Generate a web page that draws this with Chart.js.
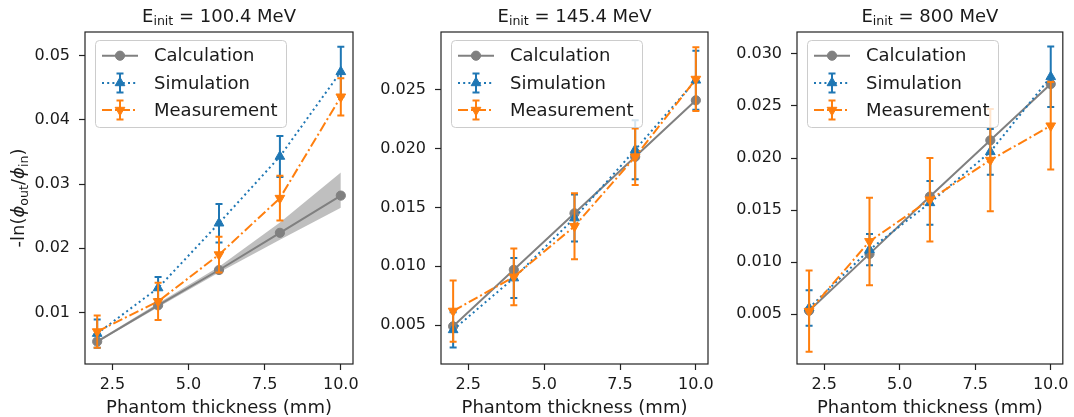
<!DOCTYPE html>
<html>
<head>
<meta charset="utf-8">
<script src="https://cdn.jsdelivr.net/npm/chart.js@4.4.0/dist/chart.umd.min.js"></script>
<style>
  html, body { margin: 0; padding: 0; background: #ffffff; }
  #wrap { position: relative; width: 1074px; height: 417px; overflow: hidden; background: #ffffff; }
  #wrap canvas { position: absolute; top: 0; }
</style>
</head>
<body>
<div id="wrap">
  <canvas id="c1" width="380" height="417" style="left:0px"></canvas>
  <canvas id="c2" width="350" height="417" style="left:380px"></canvas>
  <canvas id="c3" width="344" height="417" style="left:730px"></canvas>
</div>
<script>
// Phantom thickness (mm) shared by every panel
const thickness = [2, 4, 6, 8, 10];
const xTickValues = [2.5, 5.0, 7.5, 10.0];
const energyLabels = ['100.4', '145.4', '800'];
const seriesNames = ['Calculation', 'Simulation', 'Measurement'];

// E_init = 100.4 MeV
const calc1 = [0.00545, 0.0111, 0.0166, 0.0224, 0.0282];
const calc1Low = [0.0053, 0.0108, 0.0162, 0.0213, 0.0263];
const calc1High = [0.0056, 0.0114, 0.0171, 0.0240, 0.0318];
const sim1 = [0.0067, 0.0138, 0.0239, 0.0343, 0.0475];
const sim1Err = [0.0022, 0.0017, 0.0030, 0.0032, 0.0039];
const meas1 = [0.0070, 0.0117, 0.0190, 0.0278, 0.0436];
const meas1Err = [0.0025, 0.0029, 0.0028, 0.0035, 0.0029];
const yTicks1 = [0.01, 0.02, 0.03, 0.04, 0.05];

// E_init = 145.4 MeV
const calc2 = [0.0049, 0.0097, 0.0145, 0.0193, 0.0241];
const sim2 = [0.0046, 0.0090, 0.0141, 0.0199, 0.0258];
const sim2Err = [0.0015, 0.0017, 0.0020, 0.0025, 0.0025];
const meas2 = [0.0062, 0.0091, 0.0134, 0.0193, 0.0259];
const meas2Err = [0.0026, 0.0024, 0.0028, 0.0024, 0.0027];
const yTicks2 = [0.005, 0.010, 0.015, 0.020, 0.025];

// E_init = 800 MeV
const calc3 = [0.00535, 0.0108, 0.0163, 0.0217, 0.0271];
const sim3 = [0.0056, 0.0112, 0.0157, 0.0206, 0.0278];
const sim3Err = [0.0017, 0.0015, 0.0021, 0.0022, 0.0029];
const meas3 = [0.0053, 0.0120, 0.0160, 0.0198, 0.0231];
const meas3Err = [0.0039, 0.0042, 0.0040, 0.0049, 0.0042];
const yTicks3 = [0.005, 0.010, 0.015, 0.020, 0.025, 0.030];

const FONT = '"DejaVu Sans", "Liberation Sans", sans-serif';
const GREY = '#808080';
const BLUE = '#1f77b4';
const ORANGE = '#ff7f0e';
const INK = '#1a1a1a';

const styleCalc = { color: GREY, dash: [], pointStyle: 'circle', rotation: 0, radius: 4.6 };
const styleSim = { color: BLUE, dash: [2, 3.2], pointStyle: 'triangle', rotation: 0, radius: 5.6 };
const styleMeas = { color: ORANGE, dash: [10, 3, 2, 3], pointStyle: 'triangle', rotation: 180, radius: 5.6 };

function pts(values) {
  return thickness.map((t, i) => ({ x: t, y: values[i] }));
}

function drawErrorBar(ctx, x, yLow, yHigh, color) {
  ctx.save();
  ctx.strokeStyle = color;
  ctx.lineWidth = 2;
  ctx.setLineDash([]);
  ctx.beginPath();
  ctx.moveTo(x, yLow); ctx.lineTo(x, yHigh);
  ctx.moveTo(x - 3.5, yLow); ctx.lineTo(x + 3.5, yLow);
  ctx.moveTo(x - 3.5, yHigh); ctx.lineTo(x + 3.5, yHigh);
  ctx.stroke();
  ctx.restore();
}

function drawMarker(ctx, style, x, y) {
  ctx.save();
  ctx.fillStyle = style.color;
  ctx.strokeStyle = style.color;
  ctx.lineWidth = 1;
  ctx.setLineDash([]);
  Chart.helpers.drawPoint(ctx, { pointStyle: style.pointStyle, rotation: style.rotation, radius: style.radius, borderWidth: 1 }, x, y);
  ctx.restore();
}

// Text with subscripts: parts = [[text, isSub, isItalic], ...]
function drawRichText(ctx, parts, x, y, size, align) {
  const widths = parts.map(p => {
    ctx.font = (p[2] ? 'italic ' : '') + (p[1] ? size * 0.7 : size) + 'px ' + FONT;
    return ctx.measureText(p[0]).width;
  });
  const total = widths.reduce((a, b) => a + b, 0);
  let cx = align === 'center' ? x - total / 2 : x;
  ctx.textAlign = 'left';
  ctx.textBaseline = 'alphabetic';
  parts.forEach((p, i) => {
    ctx.font = (p[2] ? 'italic ' : '') + (p[1] ? size * 0.7 : size) + 'px ' + FONT;
    ctx.fillText(p[0], cx, p[1] ? y + size * 0.22 : y);
    cx += widths[i];
  });
}

const decor = {
  id: 'decor',
  beforeDatasetDraw(chart, args) {
    const ds = chart.data.datasets[args.index];
    if (!ds.errors) return;
    const xs = chart.scales.x, ys = chart.scales.y;
    ds.data.forEach((p, i) => {
      const x = xs.getPixelForValue(p.x);
      drawErrorBar(chart.ctx, x, ys.getPixelForValue(p.y - ds.errors[i]), ys.getPixelForValue(p.y + ds.errors[i]), ds.borderColor);
    });
  },
  afterDraw(chart, args, opts) {
    const ctx = chart.ctx;
    const a = chart.chartArea;
    ctx.save();
    // axes frame
    ctx.strokeStyle = '#222222';
    ctx.lineWidth = 1.2;
    ctx.setLineDash([]);
    ctx.strokeRect(a.left, a.top, a.right - a.left, a.bottom - a.top);

    // panel title
    ctx.fillStyle = INK;
    drawRichText(ctx, [['E', false, false], ['init', true, false], [' = ' + opts.energy + ' MeV', false, false]],
      (a.left + a.right) / 2, 21.5, 18, 'center');

    // y axis label (first panel only)
    if (opts.yLabel) {
      ctx.save();
      ctx.translate(24, (a.top + a.bottom) / 2);
      ctx.rotate(-Math.PI / 2);
      drawRichText(ctx, [['-ln(', false, false], ['\u03D5', false, true], ['out', true, false], ['/', false, false],
        ['\u03D5', false, true], ['in', true, false], [')', false, false]], 0, 0, 18, 'center');
      ctx.restore();
    }

    // legend
    const lx = a.left + 10, ly = a.top + 8, lw = 191, lh = 87;
    ctx.beginPath();
    ctx.roundRect(lx + 0.5, ly + 0.5, lw, lh, 4);
    ctx.fillStyle = 'rgba(255,255,255,0.8)';
    ctx.fill();
    ctx.strokeStyle = '#cccccc';
    ctx.lineWidth = 1;
    ctx.stroke();
    const styles = [styleCalc, styleSim, styleMeas];
    styles.forEach((s, k) => {
      const cy = ly + 15.7 + k * 27.2;
      ctx.save();
      ctx.strokeStyle = s.color;
      ctx.lineWidth = 2;
      ctx.setLineDash(s.dash);
      ctx.beginPath();
      ctx.moveTo(lx + 7, cy);
      ctx.lineTo(lx + 43, cy);
      ctx.stroke();
      ctx.restore();
      if (k > 0) drawErrorBar(ctx, lx + 25, cy + 9.5, cy - 9.5, s.color);
      drawMarker(ctx, s, lx + 25, cy);
      ctx.fillStyle = INK;
      ctx.font = '18px ' + FONT;
      ctx.textAlign = 'left';
      ctx.textBaseline = 'middle';
      ctx.fillText(seriesNames[k], lx + 59, cy + 1);
    });
    ctx.restore();
  }
};

function lineDataset(label, values, style, order, errors) {
  return {
    label: label,
    data: pts(values),
    errors: errors,
    borderColor: style.color,
    backgroundColor: style.color,
    borderWidth: 2,
    borderDash: style.dash,
    pointStyle: style.pointStyle,
    pointRotation: style.rotation,
    pointRadius: style.radius,
    pointBorderWidth: 1,
    pointBorderColor: style.color,
    pointBackgroundColor: style.color,
    tension: 0,
    fill: false,
    order: order
  };
}

function makePanel(canvasId, cfg) {
  const datasets = [];
  if (cfg.calcLow) {
    datasets.push({ label: 'calc-low', data: pts(cfg.calcLow), borderWidth: 0, pointRadius: 0, fill: false, order: 5 });
    datasets.push({ label: 'calc-high', data: pts(cfg.calcHigh), borderWidth: 0, pointRadius: 0,
      fill: '-1', backgroundColor: 'rgba(128,128,128,0.5)', order: 4 });
  }
  datasets.push(lineDataset(seriesNames[0], cfg.calc, styleCalc, 2));
  datasets.push(lineDataset(seriesNames[1], cfg.sim, styleSim, 1, cfg.simErr));
  datasets.push(lineDataset(seriesNames[2], cfg.meas, styleMeas, 0, cfg.measErr));

  const tickFont = { family: FONT, size: 16 };
  new Chart(document.getElementById(canvasId), {
    type: 'line',
    data: { datasets: datasets },
    plugins: [decor],
    options: {
      responsive: false,
      animation: false,
      events: [],
      layout: { padding: { left: 0, right: cfg.padRight, top: 32, bottom: 0 } },
      plugins: {
        legend: { display: false },
        tooltip: { enabled: false },
        decor: { energy: cfg.energy, yLabel: cfg.yLabel }
      },
      scales: {
        x: {
          type: 'linear',
          min: 1.6, max: 10.4,
          afterBuildTicks: s => { s.ticks = xTickValues.map(v => ({ value: v })); },
          afterFit: s => { s.height = 53; },
          border: { display: false },
          grid: { drawOnChartArea: false, drawTicks: true, tickLength: 6, tickColor: '#222222', tickWidth: 1.2 },
          ticks: { font: tickFont, color: INK, padding: 5, maxRotation: 0, callback: v => v.toFixed(1) },
          title: { display: true, text: 'Phantom thickness (mm)', color: INK, font: { family: FONT, size: 18 }, padding: { top: 0, bottom: -2 } }
        },
        y: {
          type: 'linear',
          min: cfg.yMin, max: cfg.yMax,
          afterBuildTicks: s => { s.ticks = cfg.yTicks.map(v => ({ value: v })); },
          afterFit: s => { s.width = cfg.yWidth; },
          border: { display: false },
          grid: { drawOnChartArea: false, drawTicks: true, tickLength: 6, tickColor: '#222222', tickWidth: 1.2 },
          ticks: { font: tickFont, color: INK, padding: 9, callback: v => v.toFixed(cfg.decimals) }
        }
      }
    }
  });
}

makePanel('c1', { energy: energyLabels[0], yLabel: true, calc: calc1, calcLow: calc1Low, calcHigh: calc1High,
  sim: sim1, simErr: sim1Err, meas: meas1, measErr: meas1Err, yTicks: yTicks1, decimals: 2,
  yMin: 0.00195, yMax: 0.0537, yWidth: 85, padRight: 27 });
makePanel('c2', { energy: energyLabels[1], yLabel: false, calc: calc2,
  sim: sim2, simErr: sim2Err, meas: meas2, measErr: meas2Err, yTicks: yTicks2, decimals: 3,
  yMin: 0.0017, yMax: 0.0299, yWidth: 61, padRight: 22 });
makePanel('c3', { energy: energyLabels[2], yLabel: false, calc: calc3,
  sim: sim3, simErr: sim3Err, meas: meas3, measErr: meas3Err, yTicks: yTicks3, decimals: 3,
  yMin: 0.00023, yMax: 0.0321, yWidth: 67, padRight: 10 });
</script>
</body>
</html>
